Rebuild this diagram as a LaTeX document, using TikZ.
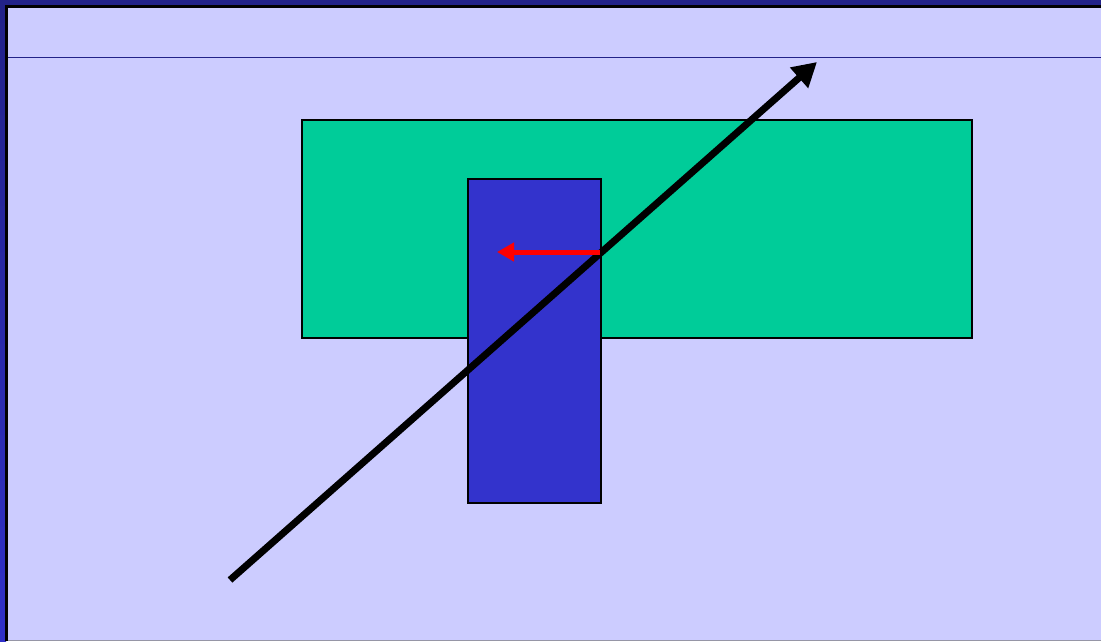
\documentclass[tikz,border=0pt]{standalone}
\usetikzlibrary{arrows.meta}
\definecolor{bg}{HTML}{CCCCFF}
\definecolor{frameA}{HTML}{222288}
\definecolor{frameB}{HTML}{3030C8}
\definecolor{greenbox}{HTML}{00CC99}
\definecolor{bluebox}{HTML}{3333CC}
\definecolor{redarrow}{HTML}{FF0000}
\tikzset{
  box/.style={draw=black, line width=2pt, inner sep=0pt},
  bigarrow/.style={line width=7pt, -{Triangle[length=24pt,width=26pt]}},
  smallarrow/.style={draw=redarrow, line width=5pt, -{Triangle[length=17pt,width=18pt]}}
}
\begin{document}
\begin{tikzpicture}[x=1pt,y=-1pt]
\useasboundingbox (0,0) rectangle (1101,641);
\fill[bg] (0,0) rectangle (1101,641);
% frame
\shade[top color=frameA, bottom color=frameB] (0,0) rectangle (6,641);
\fill[frameA] (0,0) rectangle (1101,5);
\fill[black] (5,5) rectangle (7.5,641);
\fill[black] (5,5) rectangle (1101,7.5);
\fill[gray!70!bg] (7.5,639.5) rectangle (1101,641);
% title rule
\draw[frameA, line width=1pt] (7.5,57.5) -- (1101,57.5);
% boxes
\node[box, fill=greenbox, minimum width=670pt, minimum height=218pt, anchor=north west] (green) at (300.5,118.5) {};
\node[box, fill=bluebox, minimum width=133pt, minimum height=324pt, anchor=north west] (blue) at (466.5,177.5) {};
% arrows
\coordinate (start) at (230,580);
\coordinate (tip) at (817,62);
\draw[bigarrow] (start) -- (tip);
\coordinate (rs) at (600,252);
\coordinate (re) at (497,252);
\draw[smallarrow] (rs) -- (re);
\end{tikzpicture}
\end{document}
